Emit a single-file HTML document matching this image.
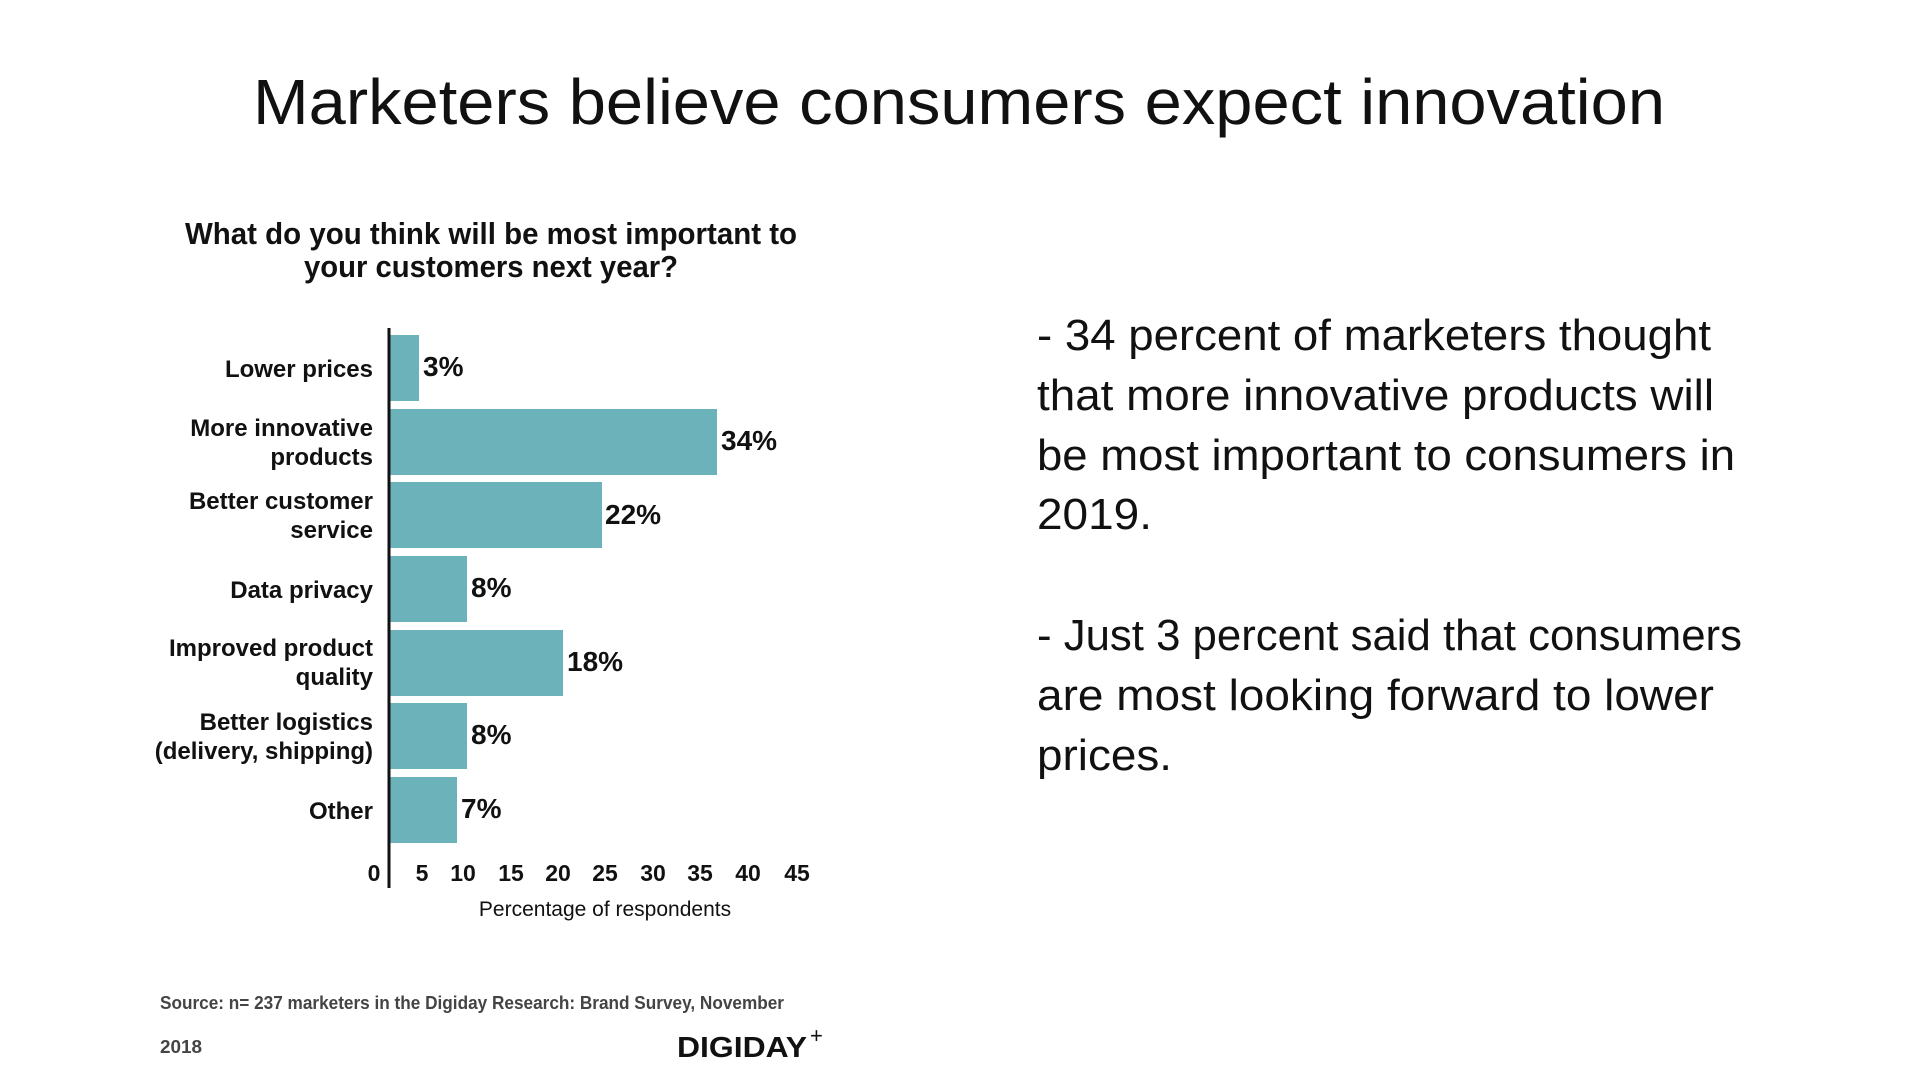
<!DOCTYPE html>
<html><head><meta charset="utf-8"><style>
html,body{margin:0;padding:0;background:#fff;}
svg{display:block;}
text{font-family:"Liberation Sans",sans-serif;}
</style></head><body>
<svg width="1920" height="1080" viewBox="0 0 1920 1080" xmlns="http://www.w3.org/2000/svg">
<rect width="1920" height="1080" fill="#fff"/>
<text x="253" y="124" font-size="64" fill="#111" textLength="1412" lengthAdjust="spacingAndGlyphs">Marketers believe consumers expect innovation</text>

<g font-weight="bold" fill="#111" font-size="31">
<text x="185" y="244" textLength="612" lengthAdjust="spacingAndGlyphs">What do you think will be most important to</text>
<text x="304" y="277" textLength="374" lengthAdjust="spacingAndGlyphs">your customers next year?</text>
</g>

<g fill="#6bb2bb">
<rect x="390" y="335" width="29" height="66"/>
<rect x="390" y="409" width="327" height="66"/>
<rect x="390" y="482" width="212" height="66"/>
<rect x="390" y="556" width="77" height="66"/>
<rect x="390" y="630" width="173" height="66"/>
<rect x="390" y="703" width="77" height="66"/>
<rect x="390" y="777" width="67" height="66"/>
</g>
<line x1="389" y1="328" x2="389" y2="888" stroke="#111" stroke-width="3"/>

<g font-size="24" fill="#111" text-anchor="end" font-weight="bold" style="font-weight:600">
<text x="373" y="377">Lower prices</text>
<text x="373" y="436">More innovative</text>
<text x="373" y="465">products</text>
<text x="373" y="509">Better customer</text>
<text x="373" y="538">service</text>
<text x="373" y="598">Data privacy</text>
<text x="373" y="656">Improved product</text>
<text x="373" y="685">quality</text>
<text x="373" y="730">Better logistics</text>
<text x="373" y="759">(delivery, shipping)</text>
<text x="373" y="819">Other</text>
</g>

<g font-size="28" font-weight="bold" fill="#111">
<text x="423" y="376">3%</text>
<text x="721" y="450">34%</text>
<text x="605" y="524">22%</text>
<text x="471" y="597">8%</text>
<text x="567" y="671">18%</text>
<text x="471" y="744">8%</text>
<text x="461" y="818">7%</text>
</g>

<g font-size="23" font-weight="bold" fill="#111" text-anchor="middle">
<text x="374" y="881">0</text>
<text x="422" y="881">5</text>
<text x="463" y="881">10</text>
<text x="511" y="881">15</text>
<text x="558" y="881">20</text>
<text x="605" y="881">25</text>
<text x="653" y="881">30</text>
<text x="700" y="881">35</text>
<text x="748" y="881">40</text>
<text x="797" y="881">45</text>
</g>
<text x="605" y="916" font-size="21" fill="#111" text-anchor="middle">Percentage of respondents</text>

<g font-size="18" font-weight="bold" fill="#444">
<text x="160" y="1009" textLength="624" lengthAdjust="spacingAndGlyphs">Source: n= 237 marketers in the Digiday Research: Brand Survey, November</text>
<text x="160" y="1053" textLength="42" lengthAdjust="spacingAndGlyphs">2018</text>
</g>
<text x="677" y="1057" font-size="29" font-weight="bold" fill="#111" textLength="130" lengthAdjust="spacingAndGlyphs">DIGIDAY</text>
<text x="810" y="1043" font-size="22" fill="#111">+</text>

<g font-size="44" fill="#111">
<text x="1037" y="350" textLength="674" lengthAdjust="spacingAndGlyphs">- 34 percent of marketers thought</text>
<text x="1037" y="410" textLength="677" lengthAdjust="spacingAndGlyphs">that more innovative products will</text>
<text x="1037" y="470" textLength="698" lengthAdjust="spacingAndGlyphs">be most important to consumers in</text>
<text x="1037" y="529" textLength="115" lengthAdjust="spacingAndGlyphs">2019.</text>
<text x="1037" y="650" textLength="705" lengthAdjust="spacingAndGlyphs">- Just 3 percent said that consumers</text>
<text x="1037" y="710" textLength="677" lengthAdjust="spacingAndGlyphs">are most looking forward to lower</text>
<text x="1037" y="770" textLength="135" lengthAdjust="spacingAndGlyphs">prices.</text>
</g>
</svg>
</body></html>
